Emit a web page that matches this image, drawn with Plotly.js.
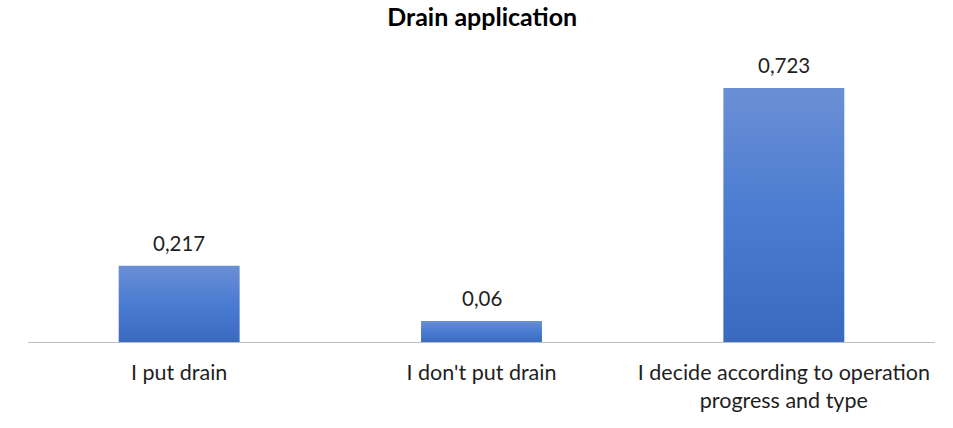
<!DOCTYPE html>
<html>
<head>
<meta charset="utf-8">
<script src="https://cdn.plot.ly/plotly-3.0.1.min.js"></script>
<style>
  html, body { margin: 0; padding: 0; background: #fff; }
  #chart { width: 953px; height: 428px; }
</style>
</head>
<body>
<div id="chart"></div>
<script>
// Survey answers on drain use and their shares
const categories = [
  "I put drain",
  "I don't put drain",
  "I decide according to operation<br>progress and type"
];
const shares = [0.217, 0.06, 0.723];
const shareLabels = shares.map(v => String(v).replace('.', ','));

const fontFamily = "Lato, 'Open Sans', sans-serif";

const trace = {
  type: 'bar',
  x: categories,
  y: shares,
  marker: { color: '#4a7bd0', line: { width: 0 } },
  width: 0.4,
  hoverinfo: 'skip'
};

// Value labels above each bar
const annotations = categories.map((c, i) => ({
  x: c,
  y: shares[i],
  text: shareLabels[i],
  showarrow: false,
  xanchor: 'center',
  yanchor: 'bottom',
  yshift: 9,
  font: { family: fontFamily, size: 20.5, color: '#1f1f1f' }
}));

const layout = {
  width: 953,
  height: 428,
  margin: { l: 28, r: 18, t: 61, b: 86 },
  paper_bgcolor: '#ffffff',
  plot_bgcolor: '#ffffff',
  showlegend: false,
  title: {
    text: '<b>Drain application</b>',
    x: 0.506,
    xanchor: 'center',
    y: 0.96,
    yanchor: 'middle',
    font: { family: fontFamily, size: 25, color: '#000000' }
  },
  xaxis: {
    type: 'category',
    showline: true,
    linecolor: '#bfbfbf',
    linewidth: 1,
    ticks: '',
    showgrid: false,
    zeroline: false,
    tickfont: { family: fontFamily, size: 21.5, color: '#1f1f1f' },
    ticklabelstandoff: 11
  },
  yaxis: {
    range: [0, 0.8],
    visible: false,
    showgrid: false,
    zeroline: false
  },
  annotations: annotations,
  bargap: 0.6
};

Plotly.newPlot('chart', [trace], layout, { displayModeBar: false, staticPlot: true }).then(gd => {
  // Vertical shading on the bars: lighter at the top, deeper at the base
  const svg = gd.querySelector('.main-svg');
  const ns = 'http://www.w3.org/2000/svg';
  let defs = svg.querySelector('defs');
  if (!defs) { defs = document.createElementNS(ns, 'defs'); svg.insertBefore(defs, svg.firstChild); }
  const grad = document.createElementNS(ns, 'linearGradient');
  grad.setAttribute('id', 'barShade');
  grad.setAttribute('x1', '0'); grad.setAttribute('y1', '0');
  grad.setAttribute('x2', '0'); grad.setAttribute('y2', '1');
  [['0%', '#6b8fd5'], ['50%', '#4a7cd1'], ['100%', '#3a6abf']].forEach(([o, c]) => {
    const s = document.createElementNS(ns, 'stop');
    s.setAttribute('offset', o); s.setAttribute('stop-color', c);
    grad.appendChild(s);
  });
  defs.appendChild(grad);
  gd.querySelectorAll('.bars .point path').forEach(p => {
    p.style.fill = 'url(#barShade)';
  });
});
</script>
</body>
</html>
